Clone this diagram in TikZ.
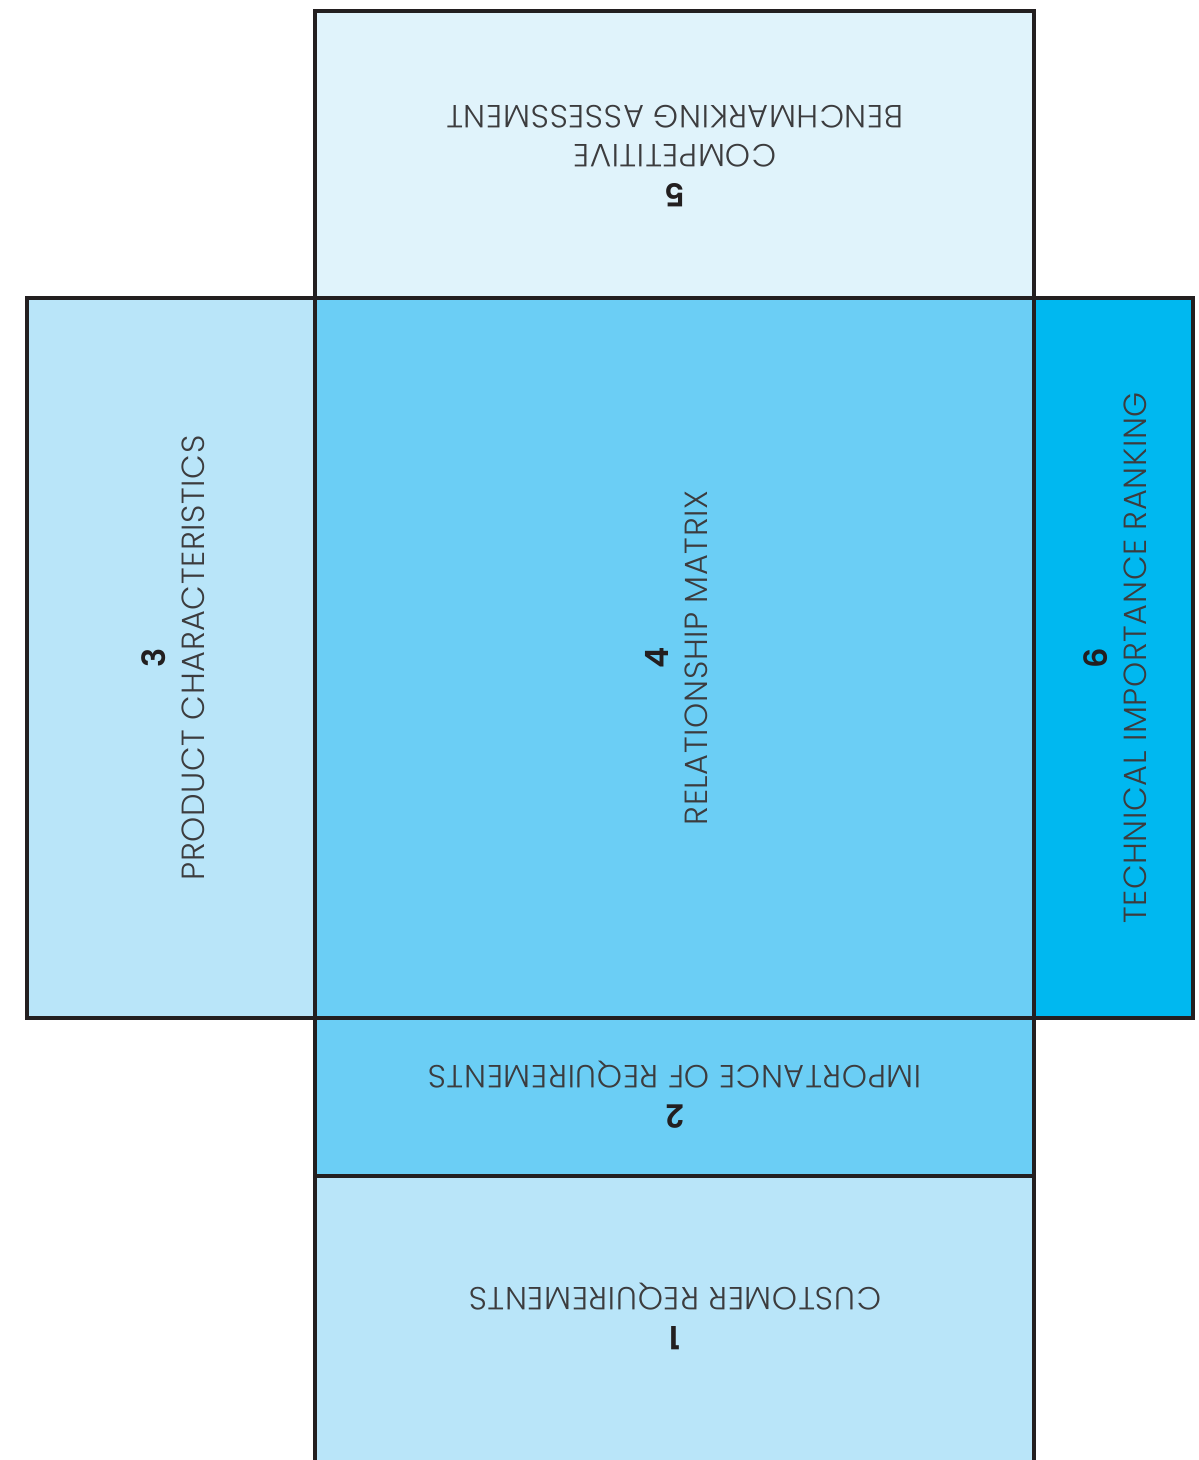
\documentclass[tikz,border=0pt]{standalone}
\usepackage{fontspec}
\setmainfont{Poppins}[UprightFont=* Light, BoldFont=* SemiBold, LetterSpace=2]
\definecolor{paleblue}{HTML}{E0F3FB}
\definecolor{lightblue}{HTML}{B9E5F9}
\definecolor{midblue}{HTML}{6BCEF5}
\definecolor{deepblue}{HTML}{00B8F0}
\definecolor{edge}{HTML}{231F20}
\definecolor{ink}{HTML}{3C3C3E}
\tikzset{
  panel/.style={anchor=north west, inner sep=0pt, outer sep=0pt, line width=4pt, draw=edge},
  openpanel/.style={anchor=north west, inner sep=0pt, outer sep=0pt},
  caption/.style={align=center, inner sep=0pt, text=ink, font=\fontsize{32}{39}\selectfont}
}
\begin{document}
\begin{tikzpicture}[x=1pt, y=-1pt]
\useasboundingbox (0,0) rectangle (1199,1460);
% house of quality panels
\node[panel, fill=paleblue, minimum width=719pt, minimum height=287pt] (bench) at (315,11) {};
\node[panel, fill=lightblue, minimum width=288pt, minimum height=720pt] (prod) at (27,298) {};
\node[panel, fill=deepblue, minimum width=159pt, minimum height=720pt] (rank) at (1034,298) {};
\node[panel, fill=midblue, minimum width=719pt, minimum height=158pt] (imp) at (315,1018) {};
\node[openpanel, fill=lightblue, minimum width=719pt, minimum height=284pt] (cust) at (315,1176) {};
\node[panel, fill=midblue, minimum width=719pt, minimum height=720pt] (rel) at (315,298) {};
% customer requirements panel runs off the bottom edge
\draw[line width=4pt, draw=edge] (cust.south west) -- (cust.north west) -- (cust.north east) -- (cust.south east);
% captions
\node[caption, rotate=180] (tbench) at ([xshift=0.5pt,yshift=-2pt]bench.center) {\textbf{\color{edge}5}\\COMPETITIVE\\BENCHMARKING ASSESSMENT};
\node[caption, rotate=90] (tprod) at ([xshift=2pt]prod.center) {\textbf{\color{edge}3}\\PRODUCT CHARACTERISTICS};
\node[caption, rotate=90] (trel) at ([xshift=2pt]rel.center) {\textbf{\color{edge}4}\\RELATIONSHIP MATRIX};
\node[caption, rotate=90] (trank) at ([xshift=2pt]rank.center) {\textbf{\color{edge}6}\\TECHNICAL IMPORTANCE RANKING};
\node[caption, rotate=180] (timp) at ([xshift=0.5pt,yshift=2pt]imp.center) {\textbf{\color{edge}2}\\IMPORTANCE OF REQUIREMENTS};
\node[caption, rotate=180] (tcust) at ([xshift=0.5pt,yshift=2pt]cust.center) {\textbf{\color{edge}1}\\CUSTOMER REQUIREMENTS};
\end{tikzpicture}
\end{document}
